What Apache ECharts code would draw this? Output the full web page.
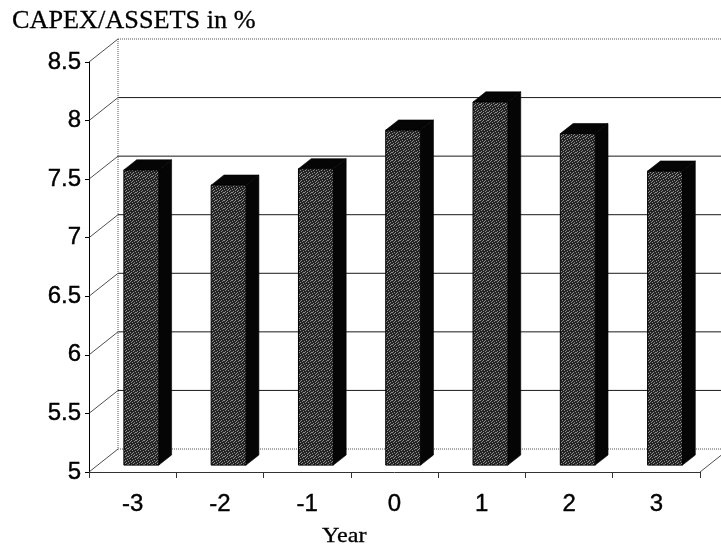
<!DOCTYPE html>
<html>
<head>
<meta charset="utf-8">
<script src="https://cdn.jsdelivr.net/npm/echarts@6/dist/echarts.min.js"></script>
<style>
  html, body { margin: 0; padding: 0; background: #fff; }
  #chart { width: 721px; height: 548px; }
</style>
</head>
<body>
<div id="chart"></div>
<script>
// Capital expenditure relative to total assets, by year around the event (year 0)
const years = ['-3', '-2', '-1', '0', '1', '2', '3'];
const capexToAssets = [7.52, 7.39, 7.53, 7.86, 8.10, 7.83, 7.51];
const yMin = 5, yMax = 8.5, yStep = 0.5;
const yTickValues = [5, 5.5, 6, 6.5, 7, 7.5, 8, 8.5];

// 3D look: depth of the box (back wall offset) and the slab the bars occupy
const DEPTH = [29, -23];
const BAR_FRONT = [8.7, -6.9];
const BAR_BACK = [21.5, -17];

// Grainy stipple used on the front faces of the columns
const STIPPLE_DOTS = [
  [0, 0], [3, 0], [6, 1], [1, 2], [4, 2], [7, 3], [2, 4], [5, 4],
  [0, 5], [3, 6], [6, 6], [1, 7], [5, 7], [7, 0], [2, 1], [4, 5]
];
function makeStipple() {
  const c = document.createElement('canvas');
  c.width = 8; c.height = 8;
  const ctx = c.getContext('2d');
  ctx.fillStyle = '#242424';
  ctx.fillRect(0, 0, 8, 8);
  ctx.fillStyle = '#8e8e8e';
  STIPPLE_DOTS.forEach(p => ctx.fillRect(p[0], p[1], 1, 1));
  return c;
}
const stipple = makeStipple();

const chart = echarts.init(document.getElementById('chart'), null, { renderer: 'canvas' });

function renderFrame(params, api) {
  const band = api.size([1, 0])[0];
  const x0 = api.coord([0, yMin])[0] - band / 2;
  const x1 = x0 + years.length * band;
  const children = [];
  const line = (a, b, style) => children.push({ type: 'line', shape: { x1: a[0], y1: a[1], x2: b[0], y2: b[1] }, style: style, silent: true });
  const solid = { stroke: '#1a1a1a', lineWidth: 1 };
  const dotted = { stroke: '#555', lineWidth: 1, lineDash: [1, 1] };
  const thin = { stroke: '#222', lineWidth: 0.8 };
  yTickValues.forEach(v => {
    const y = api.coord([0, v])[1];
    // back wall gridline
    const isEdge = (v === yMin || v === yMax);
    line([x0 + DEPTH[0], y + DEPTH[1]], [x1 + DEPTH[0], y + DEPTH[1]], isEdge ? dotted : solid);
    // side wall line from the front axis to the back wall
    line([x0, y], [x0 + DEPTH[0], y + DEPTH[1]], thin);
  });
  const yb = api.coord([0, yMin])[1];
  const yt = api.coord([0, yMax])[1];
  // back wall left edge
  line([x0 + DEPTH[0], yt + DEPTH[1]], [x0 + DEPTH[0], yb + DEPTH[1]], dotted);
  // floor right edge
  line([x1, yb], [x1 + DEPTH[0], yb + DEPTH[1]], thin);
  return { type: 'group', children: children };
}

function renderBar(params, api) {
  const i = api.value(0), v = api.value(1);
  const band = api.size([1, 0])[0];
  const w = band * 0.4;
  const base = api.coord([i, yMin]);
  const top = api.coord([i, v]);
  const xl = base[0] - w / 2 + BAR_FRONT[0];
  const xr = xl + w;
  const yb = base[1] + BAR_FRONT[1];
  const yt = top[1] + BAR_FRONT[1];
  const dx = BAR_BACK[0] - BAR_FRONT[0];
  const dy = BAR_BACK[1] - BAR_FRONT[1];
  return {
    type: 'group',
    children: [
      { type: 'polygon', shape: { points: [[xr, yt], [xr + dx, yt + dy], [xr + dx, yb + dy], [xr, yb]] },
        style: { fill: '#050505', stroke: '#000', lineWidth: 0.6 } },
      { type: 'polygon', shape: { points: [[xl, yt], [xr, yt], [xr + dx, yt + dy], [xl + dx, yt + dy]] },
        style: { fill: '#050505', stroke: '#000', lineWidth: 0.6 } },
      { type: 'rect', shape: { x: xl, y: yt, width: w, height: yb - yt },
        style: { fill: { image: stipple, repeat: 'repeat' }, stroke: '#000', lineWidth: 1 } }
    ]
  };
}

const labelFont = { fontSize: 24, fontFamily: 'Liberation Sans', color: '#000', textBorderColor: '#000', textBorderWidth: 0.4 };

chart.setOption({
  animation: false,
  backgroundColor: '#fff',
  grid: { left: 89, right: 21, top: 62, bottom: 76, containLabel: false },
  graphic: [
    { type: 'text', x: 12, y: 21, scaleX: 1.05, silent: true,
      style: { text: 'CAPEX/ASSETS in %', x: 0, y: 0, font: '25px "Liberation Serif"', fill: '#000',
               stroke: '#000', lineWidth: 0.3, textVerticalAlign: 'middle' } },
    { type: 'text', x: 322, y: 536, scaleX: 1.1, silent: true,
      style: { text: 'Year', x: 0, y: 0, font: '22px "Liberation Serif"', fill: '#000',
               stroke: '#000', lineWidth: 0.3, textVerticalAlign: 'middle' } }
  ],
  xAxis: {
    type: 'category',
    data: years,
    boundaryGap: true,
    axisLine: { show: true, lineStyle: { color: '#333', width: 1 } },
    axisTick: { show: true, length: 6, lineStyle: { color: '#333' } },
    axisLabel: Object.assign({ margin: 20 }, labelFont),
    splitLine: { show: false }
  },
  yAxis: {
    type: 'value',
    min: yMin, max: yMax, interval: yStep,
    axisLine: { show: true, lineStyle: { color: '#000', width: 1 } },
    axisTick: { show: true, length: 4, lineStyle: { color: '#000' } },
    axisLabel: Object.assign({ margin: 8 }, labelFont),
    splitLine: { show: false }
  },
  series: [
    { type: 'custom', name: 'frame', renderItem: renderFrame, data: [[0, yMin]], clip: false, silent: true, z: 1 },
    { type: 'custom', name: 'CAPEX/ASSETS', renderItem: renderBar,
      data: years.map((y, i) => [i, capexToAssets[i]]), clip: false, silent: true, z: 3 }
  ]
});
</script>
</body>
</html>
